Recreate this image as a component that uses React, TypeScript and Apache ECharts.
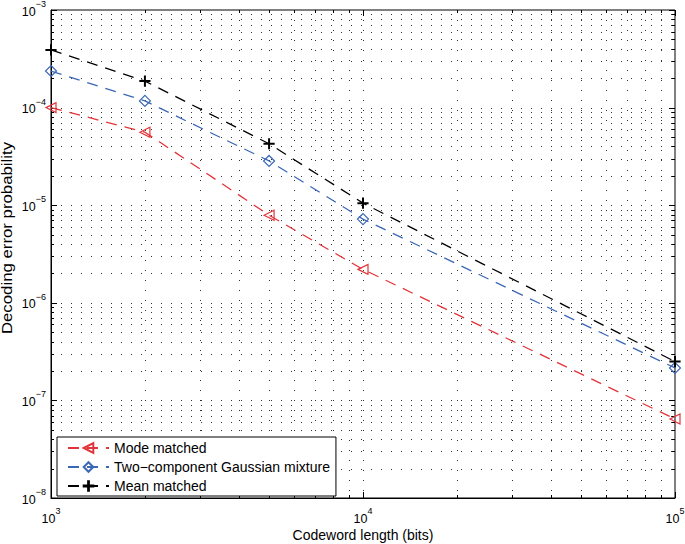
import React, { useEffect, useRef } from "react";
import * as echarts from "echarts";

const xVals = [1000, 2000, 5000, 10000, 100000];
const modeMatched = [1.0e-4, 5.6e-5, 7.9e-6, 2.2e-6, 6.45e-8];
const gaussMix = [2.37e-4, 1.17e-4, 2.84e-5, 7.2e-6, 2.15e-7];
const meanMatched = [3.9e-4, 1.87e-4, 4.26e-5, 1.05e-5, 2.5e-7];

const seriesNames = ["Mode matched", "Two\u2212component Gaussian mixture", "Mean matched"];
const seriesColors = ["#e3343a", "#3b68b5", "#000000"];
const xTitle = "Codeword length (bits)";
const yTitle = "Decoding error probability";

const xMin = 1e3;
const xMax = 1e5;
const yMin = 1e-8;
const yMax = 1e-3;
const xDecades = [1e3, 1e4];
const yDecades = [1e-8, 1e-7, 1e-6, 1e-5, 1e-4];
const mantissas = [1, 2, 3, 4, 5, 6, 7, 8, 9];

const buildTicks = (decades: number[], last: number) => {
  const out: number[] = [];
  decades.forEach((d) => mantissas.forEach((m) => out.push(m * d)));
  out.push(last);
  return out;
};
const xTicks = buildTicks(xDecades, xMax);
const yTicks = buildTicks(yDecades, yMax);

const isMajor = (v: number) => {
  const e = Math.log10(v);
  return Math.abs(e - Math.round(e)) < 1e-6;
};

const FONT = "'Liberation Sans', Helvetica, Arial, sans-serif";

const supLabel = (v: number) => {
  const e = Math.round(Math.log10(v));
  const s = e < 0 ? "\u2212" + Math.abs(e) : String(e);
  return `{b|10}{s|${s}}`;
};

const mkRich = (lh: number) => ({
  b: { fontSize: 12.5, fontFamily: FONT, color: "#000", verticalAlign: "middle", lineHeight: lh },
  s: { fontSize: 9, fontFamily: FONT, color: "#000", verticalAlign: "top", lineHeight: 9 },
});

const dotted = { stroke: "#333", lineWidth: 1, lineDash: [1, 9] };
const solid = { stroke: "#000", lineWidth: 1 };

export default function App() {
  const ref = useRef<HTMLDivElement>(null);
  useEffect(() => {
    if (!ref.current) return;
    const chart = echarts.init(ref.current, null, { renderer: "svg" });
    const mkLine = (i: number, data: number[], symbol: string, size: number, rotate = 0) => ({
      name: seriesNames[i],
      type: "line",
      data: xVals.map((x, k) => [x, data[k]]),
      symbol,
      symbolSize: size,
      symbolRotate: rotate,
      clip: false,
      z: 5,
      lineStyle: { color: seriesColors[i], width: 1.3, type: [11, 8] },
      itemStyle: { color: "rgba(0,0,0,0)", borderColor: seriesColors[i], borderWidth: 1.2 },
    });
    const plusPath = "path://M4.6,0h0.8v4.6h4.6v0.8h-4.6v4.6h-0.8v-4.6h-4.6v-0.8h4.6z";
    chart.setOption({
      animation: false,
      grid: {
        left: 51, right: 10, top: 10, bottom: 46,
        show: true, borderColor: "#000", borderWidth: 1, backgroundColor: "#fff",
        containLabel: false, outerBoundsMode: "none",
      },
      graphic: [
        {
          type: "text",
          x: 7,
          y: 238,
          rotation: Math.PI / 2,
          scaleX: 1.2,
          style: { text: yTitle, fontSize: 14, fontFamily: FONT, fill: "#000", align: "center", verticalAlign: "middle" },
        },
      ],
      xAxis: {
        type: "log",
        logBase: 10,
        min: xMin,
        max: xMax,
        name: xTitle,
        nameLocation: "middle",
        nameGap: 30,
        nameMoveOverlap: false,
        nameTextStyle: { fontSize: 14, fontFamily: FONT, color: "#000", verticalAlign: "top" },
        axisLine: { show: true, lineStyle: { color: "#000", width: 1 } },
        axisTick: { show: false },
        splitLine: { show: false },
        minorSplitLine: { show: false },
        axisLabel: { formatter: supLabel, rich: mkRich(26), margin: 8 },
      },
      yAxis: {
        type: "log",
        logBase: 10,
        min: yMin,
        max: yMax,
        axisLine: { show: true, lineStyle: { color: "#000", width: 1 } },
        axisTick: { show: false },
        splitLine: { show: false },
        axisLabel: { formatter: supLabel, rich: mkRich(24), margin: 5, padding: [3, 0, 0, 0] },
      },
      legend: {
        left: 57,
        top: 437,
        orient: "vertical",
        data: seriesNames,
        itemWidth: 41,
        itemHeight: 12,
        itemGap: 5,
        padding: [4, 6, 3, 10],
        borderColor: "#000",
        borderWidth: 1,
        borderRadius: 0,
        backgroundColor: "#fff",
        textStyle: { fontSize: 14, fontFamily: FONT, color: "#000", padding: [0, 0, 0, 0] },
      },
      series: [
        {
          type: "custom",
          name: "xgrid",
          silent: true,
          z: 1,
          data: xTicks.map((v) => [v, yMin]),
          renderItem: (params: any, api: any) => {
            const v = api.value(0);
            const cs = params.coordSys;
            const px = Math.round(api.coord([v, yMin])[0]) + 0.5;
            const top = cs.y;
            const bottom = cs.y + cs.height;
            const tl = isMajor(v) ? 6 : 3;
            const children: any[] = [];
            if (v > xMin * 1.001 && v < xMax * 0.999) {
              children.push({ type: "line", shape: { x1: px, y1: top, x2: px, y2: bottom }, style: dotted });
            }
            children.push({ type: "line", shape: { x1: px, y1: bottom, x2: px, y2: bottom - tl }, style: solid });
            children.push({ type: "line", shape: { x1: px, y1: top, x2: px, y2: top + tl }, style: solid });
            return { type: "group", children };
          },
        },
        {
          type: "custom",
          name: "ygrid",
          silent: true,
          z: 1,
          data: yTicks.map((v) => [xMin, v]),
          renderItem: (params: any, api: any) => {
            const v = api.value(1);
            const cs = params.coordSys;
            const py = Math.round(api.coord([xMin, v])[1]) + 0.5;
            const left = cs.x;
            const right = cs.x + cs.width;
            const tl = isMajor(v) ? 6 : 3;
            const children: any[] = [];
            if (v > yMin * 1.001 && v < yMax * 0.999) {
              children.push({ type: "line", shape: { x1: left, y1: py, x2: right, y2: py }, style: dotted });
            }
            children.push({ type: "line", shape: { x1: left, y1: py, x2: left + tl, y2: py }, style: solid });
            children.push({ type: "line", shape: { x1: right, y1: py, x2: right - tl, y2: py }, style: solid });
            return { type: "group", children };
          },
        },
        mkLine(0, modeMatched, "triangle", 10, 90),
        mkLine(1, gaussMix, "diamond", 11),
        mkLine(2, meanMatched, plusPath, 10),
      ],
    });
    return () => chart.dispose();
  }, []);
  return (
    <div
      ref={ref}
      style={{ position: "absolute", left: 0, top: 0, width: 685, height: 544, background: "#fff" }}
    />
  );
}
